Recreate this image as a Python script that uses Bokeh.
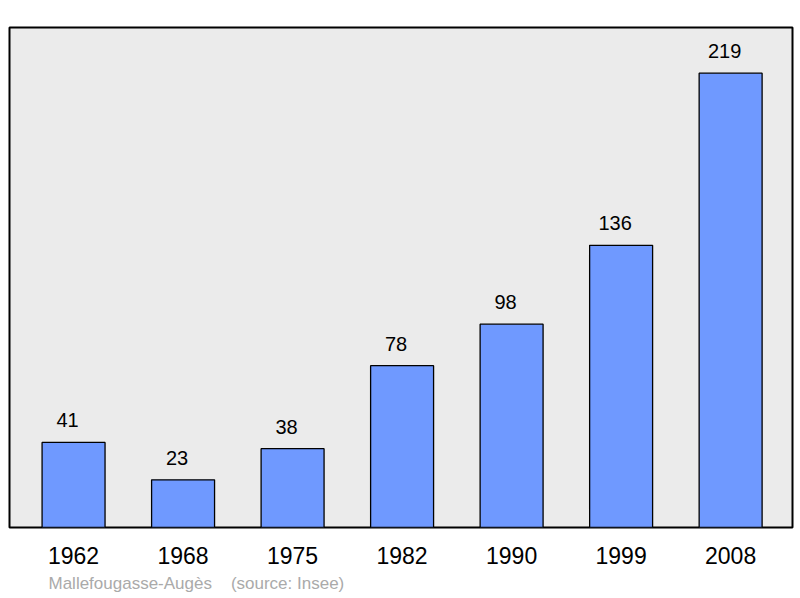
from bokeh.plotting import figure
from bokeh.models import ColumnDataSource, Range1d, FixedTicker, Title
from bokeh.core.properties import value
from bokeh.embed import file_html
from bokeh.resources import INLINE

years = ["1962", "1968", "1975", "1982", "1990", "1999", "2008"]
population = [41, 23, 38, 78, 98, 136, 219]
positions = list(range(len(years)))

src = ColumnDataSource(dict(x=positions, top=population, label=[str(v) for v in population]))

p = figure(width=800, height=598, output_backend="svg", toolbar_location=None,
           x_range=Range1d(-0.585, 6.565), y_range=Range1d(0, 241),
           min_border_left=9, min_border_right=8, min_border_top=27, min_border_bottom=70)
p.background_fill_color = "#ebebeb"
p.border_fill_color = "white"
p.outline_line_color = "black"
p.outline_line_width = 2
p.xgrid.visible = False
p.ygrid.visible = False
p.yaxis.visible = False

p.vbar(x="x", top="top", width=0.575, bottom=0, source=src,
       fill_color="#6f99ff", line_color="black", line_width=1.3)
p.text(x="x", y="top", text="label", source=src, text_align="center", text_baseline="alphabetic",
       x_offset=-6, y_offset=-22, text_font=value("Liberation Sans"), text_font_size="20px",
       text_color="black")

ax = p.xaxis[0]
ax.ticker = FixedTicker(ticks=positions)
ax.major_label_overrides = {i: y for i, y in enumerate(years)}
ax.axis_line_color = None
ax.major_tick_line_color = None
ax.minor_tick_line_color = None
ax.major_label_standoff = 13
ax.major_label_text_font = "Liberation Sans"
ax.major_label_text_font_size = "23px"
ax.major_label_text_color = "black"

p.add_layout(Title(text="Mallefougasse-Augès\u00a0\u00a0\u00a0\u00a0(source: Insee)", align="left", offset=39,
                   text_font="Liberation Sans", text_font_size="17px", text_color="#aaaaaa",
                   text_font_style="normal", standoff=11), "below")

open("out.html", "w").write(file_html(p, INLINE))
